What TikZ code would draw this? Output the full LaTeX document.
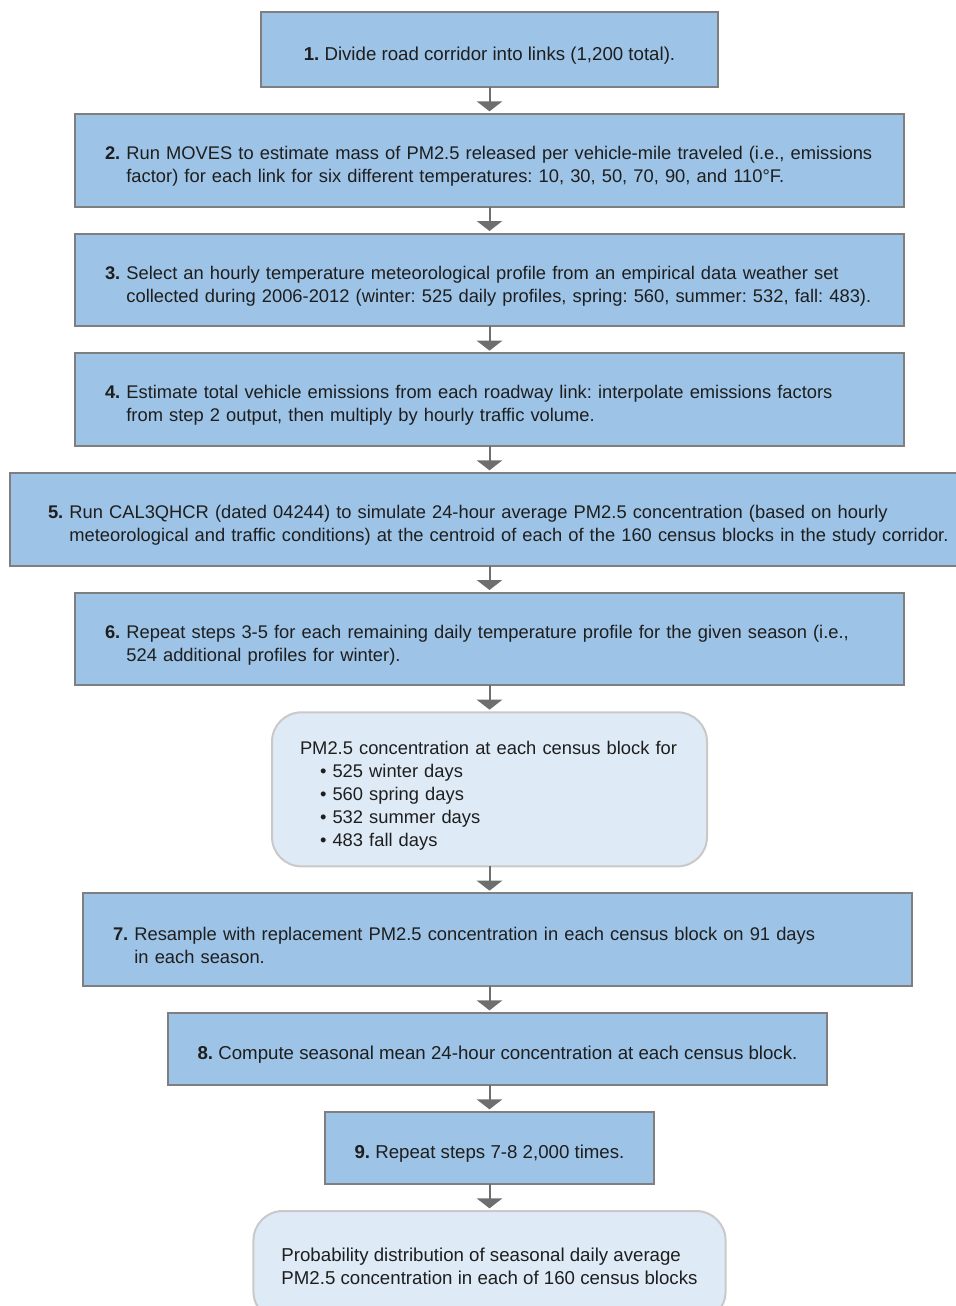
\documentclass[tikz,border=0pt]{standalone}
\usepackage{fontspec}
\setmainfont{Liberation Sans}
\usetikzlibrary{arrows.meta,positioning}
\definecolor{FlowBlue}{HTML}{9DC3E6}
\definecolor{FlowPale}{HTML}{DEEAF6}
\definecolor{FlowEdge}{HTML}{7F7F7F}
\definecolor{FlowSoft}{HTML}{C9C9C9}
\definecolor{FlowArrow}{HTML}{6E6E6E}
\definecolor{FlowInk}{HTML}{1E1E1E}
\frenchspacing
\newcommand{\steplines}[3]{\mbox{\textbf{#1.} #2}\\\mbox{\phantom{\textbf{#1.} }#3}}
\tikzset{
  flowstep/.style={
    draw=FlowEdge,
    line width=1.5pt,
    fill=FlowBlue,
    text=FlowInk,
    font=\fontsize{14}{17.25}\selectfont,
    inner xsep=22.5pt,
    inner ysep=0pt,
    outer sep=0pt,
    align=left,
    execute at begin node={\rule{0pt}{19pt}}
  },
  flowwide/.style={
    flowstep,
    font=\fontsize{13.75}{17.25}\selectfont,
    text width=576.75pt,
    minimum height=69.5pt
  },
  flowresult/.style={
    flowstep,
    draw=FlowSoft,
    fill=FlowPale,
    rounded corners=22pt,
    inner xsep=21pt
  },
  flowarrow/.style={-{Triangle[width=19pt,length=7.5pt]},line width=1.5pt,draw=FlowArrow,shorten >=2pt}
}

\begin{document}
\begin{tikzpicture}[x=0.75pt,y=-0.75pt,node distance=20.25pt]
  \useasboundingbox (0,0) rectangle (956,1306);
  \node[flowstep,align=center,minimum width=342.75pt,minimum height=56.25pt] (divide) at (489.5,49.5)
    {\textbf{1.} Divide road corridor into links (1,200 total).};
  \node[flowwide,below=of divide] (moves) {\steplines{2}
    {Run MOVES to estimate mass of PM2.5 released per vehicle-mile traveled (i.e., emissions}
    {factor) for each link for six different temperatures: 10, 30, 50, 70, 90, and 110°F.}};
  \node[flowwide,below=of moves] (profile) {\steplines{3}
    {Select an hourly temperature meteorological profile from an empirical data weather set}
    {collected during 2006-2012 (winter: 525 daily profiles, spring: 560, summer: 532, fall: 483).}};
  \node[flowwide,below=of profile] (emissions) {\steplines{4}
    {Estimate total vehicle emissions from each roadway link: interpolate emissions factors}
    {from step 2 output, then multiply by hourly traffic volume.}};
  \node[flowwide,below=of emissions,xshift=6.375pt,text width=675pt,inner xsep=28.5pt] (dispersion) {\steplines{5}
    {Run CAL3QHCR (dated 04244) to simulate 24-hour average PM2.5 concentration (based on hourly}
    {meteorological and traffic conditions) at the centroid of each of the 160 census blocks in the study corridor.}};
  \node[flowwide,below=of dispersion,xshift=-6.375pt] (repeat) {\steplines{6}
    {Repeat steps 3-5 for each remaining daily temperature profile for the given season (i.e.,}
    {524 additional profiles for winter).}};
  \node[flowresult,below=of repeat,font=\fontsize{13.75}{17.25}\selectfont,text width=284.25pt,minimum height=115.5pt] (daily) {%
    \mbox{PM2.5 concentration at each census block for}\\
    \hspace*{15pt}• 525 winter days\\
    \hspace*{15pt}• 560 spring days\\
    \hspace*{15pt}• 532 summer days\\
    \hspace*{15pt}• 483 fall days};
  \node[flowwide,below=of daily,xshift=6pt] (resample) {\steplines{7}
    {Resample with replacement PM2.5 concentration in each census block on 91 days}
    {in each season.}};
  \node[flowstep,below=of resample,align=center,minimum width=492.75pt,minimum height=54pt] (mean)
    {\textbf{8.} Compute seasonal mean 24-hour concentration at each census block.};
  \node[flowstep,below=of mean,xshift=-6pt,align=center,minimum width=246.75pt,minimum height=54pt] (boot)
    {\textbf{9.} Repeat steps 7-8 2,000 times.};
  \node[flowresult,below=of boot,minimum width=350.25pt,minimum height=82.5pt,execute at begin node={}] (result) {
    Probability distribution of seasonal daily average\\
    PM2.5 concentration in each of 160 census blocks};
  \coordinate (axis) at (divide.center);
  \foreach \from/\to in {divide/moves,moves/profile,profile/emissions,emissions/dispersion,
      dispersion/repeat,repeat/daily,daily/resample,resample/mean,mean/boot,boot/result}
    \draw[flowarrow] (axis |- \from.south) -- (axis |- \to.north);
\end{tikzpicture}
\end{document}
